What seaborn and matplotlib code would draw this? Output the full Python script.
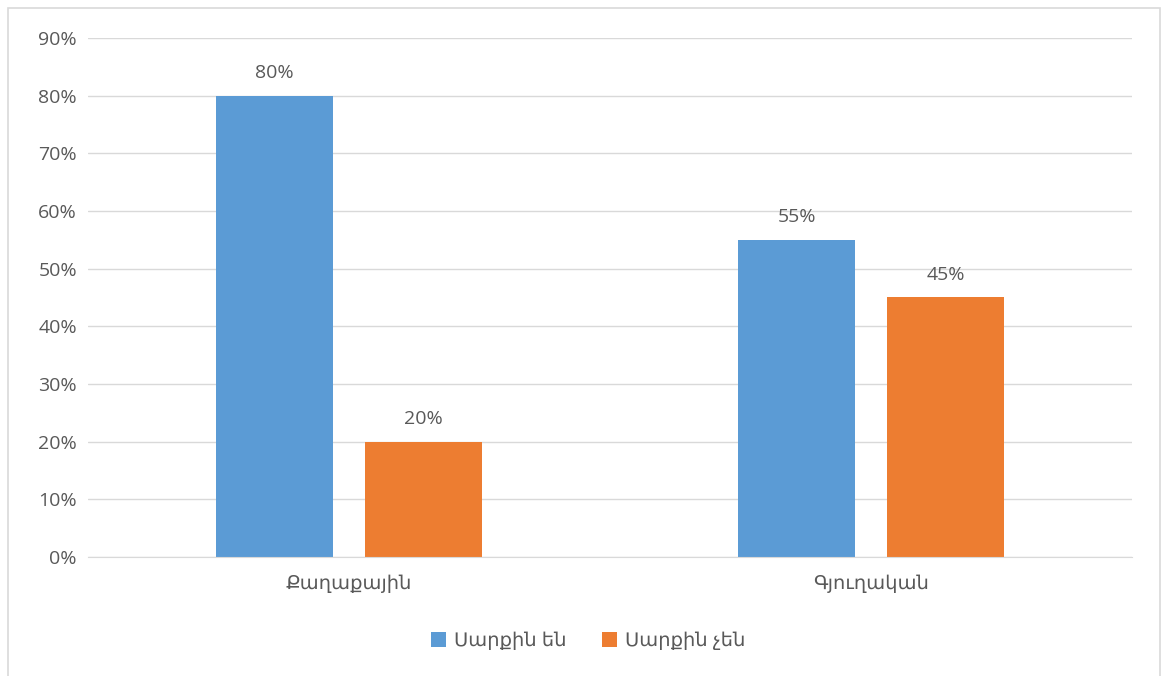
import pandas as pd
import seaborn as sns
import matplotlib.pyplot as plt
from matplotlib.patches import Rectangle
from matplotlib.ticker import PercentFormatter

# Tvyalner
categories = ['Քաղաքային', 'Գյուղական']
series = ['Սարքին են', 'Սարքին չեն']
values_yes = [0.80, 0.55]
values_no = [0.20, 0.45]
colors = ['#5B9BD5', '#ED7D31']

df = pd.DataFrame({
    'category': categories * 2,
    'series': [series[0]] * 2 + [series[1]] * 2,
    'value': values_yes + values_no,
})

sns.set_style('white')
plt.rcParams['font.family'] = ['Open Sans', 'DejaVu Sans']
text_color = '#595959'

fig = plt.figure(figsize=(11.65, 6.76), dpi=100)
ax = fig.add_axes([88 / 1165, 1 - 557 / 676, (1132 - 88) / 1165, (557 - 38) / 676])

sns.barplot(data=df, x='category', y='value', hue='series', palette=colors,
            saturation=1, linewidth=0, width=0.57, gap=0.215, ax=ax, legend=True)

ax.set_ylim(0, 0.9)
ax.set_xlim(-0.5, 1.5)
ax.set_yticks([i / 10 for i in range(10)])
ax.yaxis.set_major_formatter(PercentFormatter(1.0, decimals=0))
ax.yaxis.grid(True, color='#D9D9D9', linewidth=1)
ax.set_axisbelow(True)
for side in ['top', 'right', 'left']:
    ax.spines[side].set_visible(False)
ax.spines['bottom'].set_color('#D9D9D9')
ax.tick_params(axis='both', length=0, labelsize=14, colors=text_color, pad=8)
ax.tick_params(axis='x', pad=13)
ax.set_xlabel('')
ax.set_ylabel('')

for cont in ax.containers:
    ax.bar_label(cont, labels=[f'{v * 100:.0f}%' for v in cont.datavalues],
                 padding=10, fontsize=14, color=text_color)

handles, labels = ax.get_legend_handles_labels()
ax.get_legend().remove()
fig.legend(handles, labels, loc='center', bbox_to_anchor=(588 / 1165, 1 - 641 / 676),
           ncol=2, frameon=False, fontsize=14, handlelength=0.8, handleheight=0.8,
           columnspacing=1.8, handletextpad=0.4, labelcolor=text_color)

# chart border
fig.patches.append(Rectangle((8 / 1165, -0.01), (1160 - 8) / 1165, 1 - 8 / 676 + 0.01,
                             transform=fig.transFigure, fill=False,
                             edgecolor='#D9D9D9', linewidth=1.2))

fig.savefig('out.png', dpi=100, facecolor='white')
